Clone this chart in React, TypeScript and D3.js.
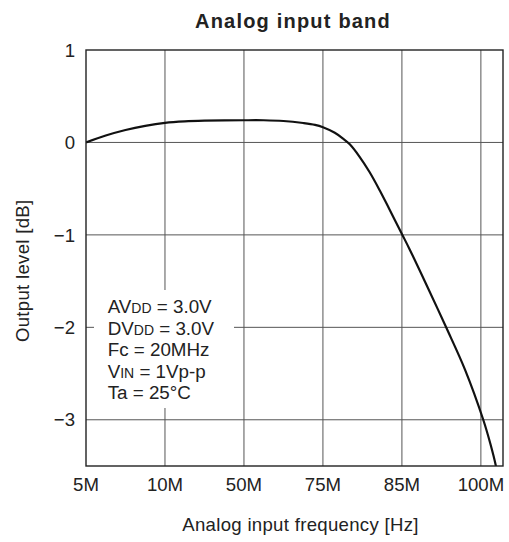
import React from "react";
import * as d3 from "d3";

const xCategories = ["5M", "10M", "50M", "75M", "85M", "100M"];
const yTickValues = [1, 0, -1, -2, -3];
const yTickLabels = ["1", "0", "\u22121", "\u22122", "\u22123"];

// curve: position along the category axis (category index units) and output level in dB
const curvePos = [0, 0.25, 0.5, 0.75, 1.0, 1.25, 1.5, 2.0, 2.25, 2.5, 2.75, 2.9, 3.0, 3.15, 3.25, 3.34, 3.46, 3.59, 3.72, 3.84, 4.0, 4.1, 4.3, 4.56, 4.8, 5.03, 5.12, 5.19, 5.22];
const curveDb = [0, 0.075, 0.135, 0.18, 0.212, 0.228, 0.235, 0.24, 0.24, 0.232, 0.21, 0.19, 0.165, 0.105, 0.045, -0.02, -0.15, -0.32, -0.52, -0.72, -0.99, -1.16, -1.52, -2.0, -2.46, -3.0, -3.26, -3.5, -3.65];

const legendLines = [
  ["AV", "DD", " = 3.0V"],
  ["DV", "DD", " = 3.0V"],
  ["Fc = 20MHz", "", ""],
  ["V", "IN", " = 1Vp-p"],
  ["Ta = 25\u00B0C", "", ""],
];

const W = 509;
const H = 542;
const M = { left: 86, right: 503, top: 50, bottom: 466 };
const FONT = "'Liberation Sans', Arial, Helvetica, sans-serif";

export default function App() {
  const x = d3.scaleLinear().domain([0, 5.28]).range([M.left, M.right]);
  const y = d3.scaleLinear().domain([-3.5, 1]).range([M.bottom, M.top]);
  const pts: [number, number][] = curvePos.map((p, i) => [p, curveDb[i]]);
  const line = d3
    .line<[number, number]>()
    .x((d) => x(d[0]))
    .y((d) => y(d[1]))
    .curve(d3.curveCatmullRom.alpha(0.5));

  return (
    <svg
      width={W}
      height={H}
      style={{ position: "absolute", left: 0, top: 0, background: "#fff" }}
      fontFamily={FONT}
    >
      <defs>
        <clipPath id="plotClip">
          <rect x={M.left} y={M.top} width={M.right - M.left} height={M.bottom - M.top} />
        </clipPath>
      </defs>
      <rect x={0} y={0} width={W} height={H} fill="#fff" />
      {/* title */}
      <text x={293} y={27.5} textAnchor="middle" fontSize={20} fontWeight="bold" letterSpacing={1.2} fill="#222">
        Analog input band
      </text>
      {/* grid */}
      {xCategories.map((c, i) =>
        i === 0 ? null : (
          <line key={"gx" + c} x1={x(i)} x2={x(i)} y1={M.top} y2={M.bottom} stroke="#555" strokeWidth={1} />
        )
      )}
      {yTickValues.map((v) =>
        v === 1 ? null : (
          <line key={"gy" + v} x1={M.left} x2={M.right} y1={y(v)} y2={y(v)} stroke="#555" strokeWidth={1} />
        )
      )}
      {/* legend background */}
      <rect x={94} y={290} width={140} height={118} fill="#fff" />
      {/* curve */}
      <path d={line(pts) || ""} fill="none" stroke="#111" strokeWidth={2.2} clipPath="url(#plotClip)" />
      {/* frame */}
      <rect x={M.left} y={M.top} width={M.right - M.left} height={M.bottom - M.top} fill="none" stroke="#222" strokeWidth={1.4} />
      {/* y ticks */}
      {yTickValues.map((v, i) => (
        <text key={"yt" + v} x={75} y={y(v)} dy="0.36em" textAnchor="end" fontSize={18.6} fill="#222">
          {yTickLabels[i]}
        </text>
      ))}
      {/* x ticks */}
      {xCategories.map((c, i) => (
        <text key={"xt" + c} x={x(i)} y={490.7} textAnchor="middle" fontSize={18.6} fill="#222">
          {c}
        </text>
      ))}
      {/* axis titles */}
      <text x={300.5} y={531} textAnchor="middle" fontSize={18.6} letterSpacing={0.3} fill="#222">
        Analog input frequency [Hz]
      </text>
      <text
        transform={`translate(28.5, 270.8) rotate(-90)`}
        textAnchor="middle"
        fontSize={18.6}
        letterSpacing={0.3}
        fill="#222"
      >
        Output level [dB]
      </text>
      {/* legend */}
      {legendLines.map((l, i) => (
        <text key={"lg" + i} x={107.7} y={313 + i * 21.5} fontSize={18.8} fill="#222">
          {l[0]}
          {l[1] ? <tspan fontSize={14}>{l[1]}</tspan> : null}
          {l[2] ? <tspan>{l[2]}</tspan> : null}
        </text>
      ))}
    </svg>
  );
}
